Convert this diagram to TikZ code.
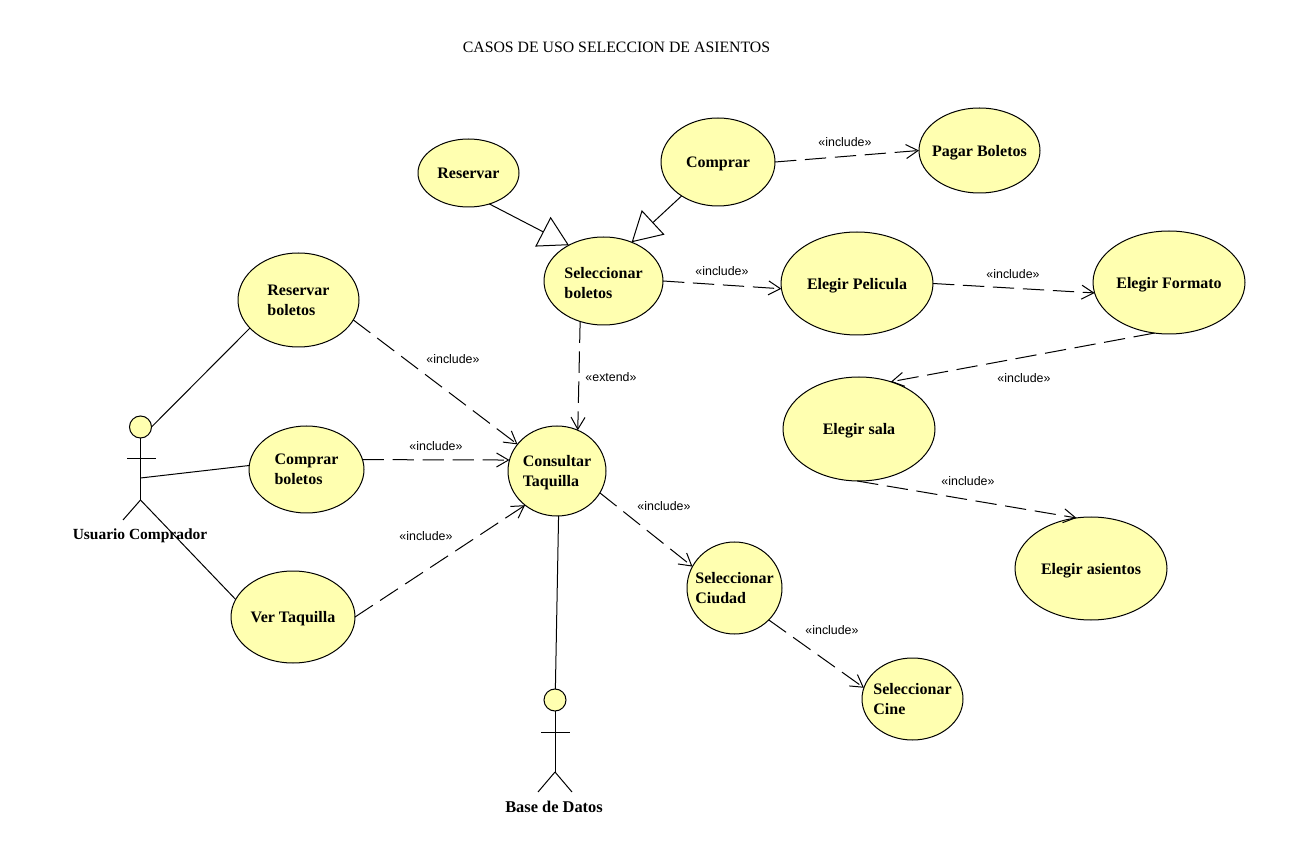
\documentclass[tikz,border=0pt]{standalone}
\usepackage{fontspec}
\setmainfont{Liberation Serif}
\newfontfamily\labelfont{Liberation Sans}
\usetikzlibrary{shapes.geometric, arrows.meta}

\newcommand{\lowtext}{\rule{0pt}{11pt}}
\tikzset{
  ucase/.style 2 args={ellipse, draw, fill=ucyellow, inner sep=-5pt, outer sep=0pt,
    minimum width=#1*0.75pt, minimum height=#2*0.75pt, align=left,
    font=\fontsize{12}{15}\selectfont\bfseries},
  actorhead/.style={circle, draw, fill=ucyellow, inner sep=0pt, outer sep=0pt, minimum size=16.5pt},
  actorname/.style={font=\fontsize{11.6}{15}\selectfont\bfseries},
  stereo/.style={font=\labelfont\fontsize{9.3}{11}\selectfont, inner sep=0pt},
  incl/.style={dash pattern=on 16pt off 6.5pt, -{Straight Barb[length=9pt,width=10.5pt]}},
  gener/.style={-{Triangle[open,length=22pt,width=25pt]}}
}
\definecolor{ucyellow}{HTML}{FFFFB0}

\begin{document}
\begin{tikzpicture}[x=0.75pt, y=-0.75pt, line width=0.75pt]
    \useasboundingbox (0,0) rectangle (1300,855);

    \node[font=\fontsize{11.85}{15}\selectfont] (title) at (616.5,47) {CASOS DE USO SELECCION DE ASIENTOS};

    % Use cases
    \node[ucase={101}{68}] (reservar) at (468.5,173) {Reservar};
    \node[ucase={114}{88}] (comprar) at (718,162) {\lowtext Comprar};
    \node[ucase={121}{85}] (pagar) at (979.5,150.5) {\lowtext Pagar Boletos};
    \node[ucase={119}{88}] (selBoletos) at (603.5,281) {\lowtext Seleccionar\\boletos};
    \node[ucase={152}{103}] (pelicula) at (857,283.5) {\lowtext Elegir Pelicula};
    \node[ucase={152}{103}] (formato) at (1169,282.5) {\lowtext Elegir Formato};
    \node[ucase={152}{104}] (sala) at (859,429) {\lowtext Elegir sala};
    \node[ucase={152}{103}] (asientos) at (1091,568.5) {\lowtext Elegir asientos};
    \node[ucase={121}{94}] (resBoletos) at (298.5,300) {Reservar\\boletos};
    \node[ucase={115}{87}] (comBoletos) at (306.5,469.5) {Comprar\\boletos};
    \node[ucase={124}{92}] (verTaquilla) at (293,617) {\lowtext Ver Taquilla};
    \node[ucase={98}{90}] (consultar) at (557,471) {\lowtext Consultar\\Taquilla};
    \node[ucase={95}{92}] (ciudad) at (734.5,588) {Seleccionar\\Ciudad};
    \node[ucase={101}{82}] (cine) at (912.5,699) {Seleccionar\\Cine};

    % Usuario Comprador
    \node[actorhead] (usrHead) at (140.5,427) {};
    \draw (usrHead.south) -- (140.5,500) coordinate (usrHip);
    \draw (127,459) -- (156,459);
    \draw (usrHip) -- (123,520);
    \coordinate (usrWaist) at (140.5,478);
    \node[actorname] (usrName) at (140,535.5) {Usuario Comprador};

    % Base de Datos
    \node[actorhead] (dbHead) at (555,700) {};
    \draw (dbHead.south) -- (555,772) coordinate (dbHip);
    \draw (541,732) -- (570,732);
    \draw (dbHip) -- (538,792);
    \draw (dbHip) -- (572,792);
    \node[actorname, font=\fontsize{12.3}{15}\selectfont\bfseries] (dbName) at (554,807) {Base de Datos};

    % Associations
    \draw (usrHead.0) -- (resBoletos.210);
    \draw (usrWaist) -- (comBoletos.176);
    \draw (usrHip) -- (verTaquilla.163);
    \draw (consultar.272) -- (dbHead.88);

    % Generalizations
    \draw[gener] (reservar.-56) -- (selBoletos.134);
    \draw[gener] (comprar.223) -- (selBoletos.54);

    % Includes
    \draw[incl] (comprar.0) -- (pagar.180);
    \draw[incl] (selBoletos.0) -- (pelicula.184);
    \draw[incl] (pelicula.0) -- (formato.188);
    \draw[incl] (formato.254) -- (sala.56);
    \draw[incl] (sala.268) -- (asientos.106);
    \draw[incl] (resBoletos.-20) -- (consultar.146);
    \draw[incl] (comBoletos.10) -- (consultar.167);
    \draw[incl] (verTaquilla.0) -- (consultar.227);
    \draw[incl] (selBoletos.240) -- (consultar.63);
    \draw[incl] (consultar.-27) -- (ciudad.153);
    \draw[incl] (ciudad.-43) -- (cine.167);

    \node[stereo] (lblPagar) at (845,142) {«include»};
    \node[stereo] (lblPelicula) at (722,271) {«include»};
    \node[stereo] (lblFormato) at (1013,274) {«include»};
    \node[stereo] (lblSala) at (1024,378) {«include»};
    \node[stereo] (lblAsientos) at (968,481) {«include»};
    \node[stereo] (lblResBoletos) at (453,359) {«include»};
    \node[stereo] (lblComBoletos) at (436,446) {«include»};
    \node[stereo] (lblVer) at (426,536) {«include»};
    \node[stereo] (lblExtend) at (611,377) {«extend»};
    \node[stereo] (lblCiudad) at (664,506) {«include»};
    \node[stereo] (lblCine) at (832,630) {«include»};
  \end{tikzpicture}
\end{document}
